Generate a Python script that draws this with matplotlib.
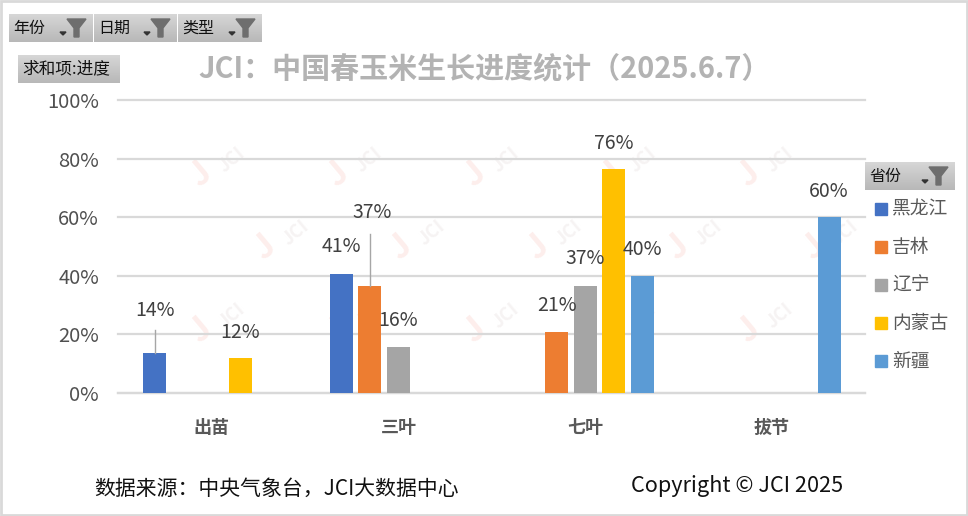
import numpy as np
import matplotlib
matplotlib.use('Agg')
import matplotlib.pyplot as plt
from matplotlib.patches import Polygon, Rectangle

plt.rcParams['font.family'] = ['Noto Sans CJK SC', 'DejaVu Sans']

W, H = 968, 516

# data
categories = ['出苗', '三叶', '七叶', '拔节']
provinces = ['黑龙江', '吉林', '辽宁', '内蒙古', '新疆']
colors = ['#4472C4', '#ED7D31', '#A5A5A5', '#FFC000', '#5B9BD5']
heilongjiang = [0.136, 0.406, np.nan, np.nan]
jilin = [np.nan, 0.366, 0.208, np.nan]
liaoning = [np.nan, 0.158, 0.366, np.nan]
neimenggu = [0.118, np.nan, 0.764, np.nan]
xinjiang = [np.nan, np.nan, 0.40, 0.60]
series = [heilongjiang, jilin, liaoning, neimenggu, xinjiang]
yticks = [0, 0.2, 0.4, 0.6, 0.8, 1.0]
slicers = ['年份', '日期', '类型']

# hand moved data labels: (series, category) -> offset in px
label_offsets = {(0, 0): (0, 43), (3, 0): (0, 26), (0, 1): (0, 28), (1, 1): (2, 73),
                 (2, 1): (0, 26), (1, 2): (0, 27), (2, 2): (0, 27), (3, 2): (0, 26),
                 (4, 2): (0, 26), (4, 3): (0, 26)}
leaders = [(0, 0, 23), (1, 1, 52)]


def fx(px):
    return px / W


def fy(py):
    return 1 - py / H


fig = plt.figure(figsize=(W / 100, H / 100), dpi=100, facecolor='white')

# background overlay for frame and watermarks
bg = fig.add_axes([0, 0, 1, 1])
bg.set_xlim(0, W)
bg.set_ylim(H, 0)
bg.axis('off')
bg.add_patch(Rectangle((1, 1), W - 2, H - 2, fill=False, ec='#d9d9d9', lw=2))

marks = [(wx, wy) for wy in (167, 323) for wx in (213, 350, 487, 624, 761)]
marks += [(wx, 240) for wx in (277, 413, 550, 690, 826)]
for wx, wy in marks:
    bg.text(wx - 13, wy + 8, 'J', color='#fdeeec', fontsize=24, rotation=40, ha='center', va='center',
            fontweight='bold', zorder=0)
    bg.text(wx + 19, wy - 7, 'JCI', color='#f6f3f3', fontsize=13, rotation=40, ha='center', va='center',
            fontweight='bold', zorder=0)

ax = fig.add_axes([fx(118.4), fy(393), fx(747), (393 - 100) / H])
ax.patch.set_alpha(0)
x = np.arange(len(categories))
bar_w = 0.123
step = 0.153

for i, vals in enumerate(series):
    ax.bar(x + (i - 2) * step, vals, bar_w, color=colors[i], zorder=3)

ax.set_xlim(-0.5, 3.5)
ax.set_ylim(0, 1)
ax.set_yticks(yticks)
ax.set_yticklabels([f'{v:.0%}' for v in yticks], fontsize=14.5, color='#505050', va='center_baseline')
ax.set_xticks(x)
ax.set_xticklabels(categories, fontsize=13, color='#595959', fontweight='bold')
ax.tick_params(length=0)
ax.tick_params(axis='y', pad=14)
ax.tick_params(axis='x', pad=18)
ax.grid(axis='y', color='#d9d9d9', lw=1.6, zorder=0, clip_on=False)
ax.set_axisbelow(True)
for s in ax.spines.values():
    s.set_visible(False)
ax.spines['bottom'].set_visible(True)
ax.spines['bottom'].set_color('#d9d9d9')
ax.spines['bottom'].set_linewidth(1.6)

for (i, c), (dx, dy) in label_offsets.items():
    v = series[i][c]
    ax.annotate(f'{v:.0%}', (x[c] + (i - 2) * step, v), xytext=(dx * 0.72, dy * 0.72),
                textcoords='offset points', ha='center', va='center', fontsize=14, color='#404040',
                zorder=5)
for i, c, dy in leaders:
    v = series[i][c]
    ax.plot([x[c] + (i - 2) * step] * 2, [v, v + dy / 293], color='#a6a6a6', lw=1, zorder=4)

top = fig.add_axes([0, 0, 1, 1])
top.axis('off')
grad = np.linspace(0.84, 0.72, 50).reshape(-1, 1)


def button(x0, y0, w, h, label, size=11.5, funnel=True):
    top.imshow(grad, extent=(x0, x0 + w, y0 + h, y0), cmap='gray', vmin=0, vmax=1, aspect='auto', zorder=2)
    top.text(x0 + 4, y0 + h / 2, label, fontsize=size, color='#111111', va='center', ha='left', zorder=3)
    if funnel:
        tri = x0 + w - 33
        top.add_patch(Polygon([(tri, y0 + 18), (tri + 6, y0 + 18), (tri + 3, y0 + 21)], color='#333333', zorder=3))
        fa = x0 + w - 26
        top.add_patch(Polygon([(fa, y0 + 5), (fa + 19, y0 + 5), (fa + 12, y0 + 14), (fa + 12, y0 + 23),
                               (fa + 7, y0 + 23), (fa + 7, y0 + 14)], color='#6e6e6e', zorder=3))


button(9, 14, 84, 28, slicers[0])
button(94, 14, 83, 28, slicers[1])
button(178, 14, 84, 28, slicers[2])
button(18, 55, 102, 28, '求和项:进度', size=12, funnel=False)
button(865, 162, 90, 28, '省份')
top.set_xlim(0, W)
top.set_ylim(H, 0)

# legend by hand because of the spacing
for i, name in enumerate(provinces):
    ly = 209 + i * 38
    top.add_patch(Rectangle((875, ly - 6), 12, 12, color=colors[i], zorder=3))
    top.text(892, ly, name, fontsize=13.5, color='#595959', va='center', ha='left', zorder=3)

fig.text(fx(485), fy(68), 'JCI：中国春玉米生长进度统计（2025.6.7）', fontsize=20.9, fontweight='bold', color='#b3b3b3',
         ha='center', va='center')
fig.text(fx(94), fy(489), '数据来源：中央气象台，JCI大数据中心', fontsize=15, color='#111111', ha='left', va='center')
fig.text(fx(631), fy(486), 'Copyright © JCI 2025', fontsize=15.6, color='#111111', ha='left', va='center')

fig.savefig('out.png', dpi=100)
